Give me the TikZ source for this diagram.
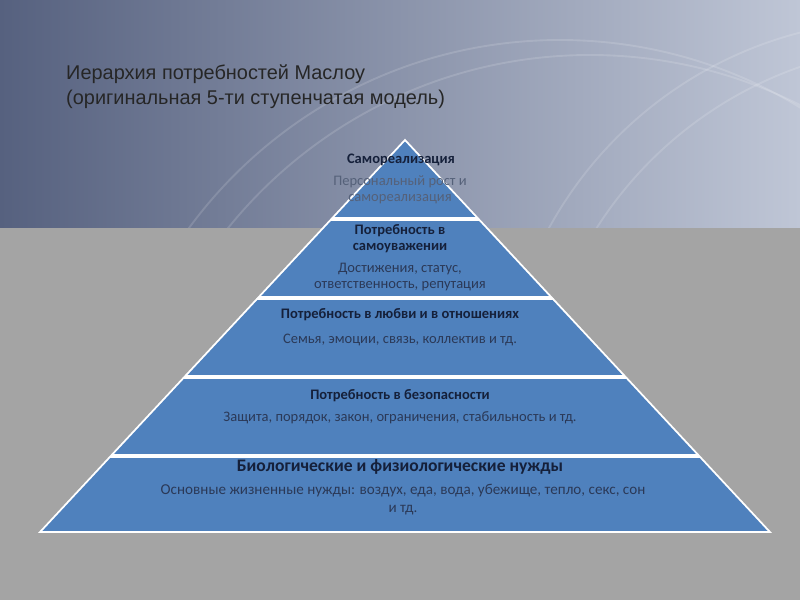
\documentclass[tikz,border=0pt]{standalone}
\usepackage{fontspec}
\setmainfont{Carlito}
\newfontfamily\mzTitleFont{Liberation Sans}
\usetikzlibrary{positioning,calc}
\definecolor{mzBandDark}{HTML}{56617F}
\definecolor{mzBandLight}{HTML}{BFC6D6}
\definecolor{mzGray}{HTML}{A4A4A4}
\definecolor{mzTier}{HTML}{4F81BD}
\definecolor{mzHeadText}{HTML}{15203A}
\definecolor{mzSubText}{HTML}{2B3957}
\tikzset{
    mzTierShape/.style={
        fill=mzTier,
        draw=white,
        line width=1.5pt,
        line join=miter
    },
    mzHead/.style={
        font=\bfseries\fontsize{12.4}{13.8}\selectfont,
        text=mzHeadText,
        align=center,
        inner sep=0pt
    },
    mzSub/.style={
        font=\fontsize{12.4}{13.5}\selectfont,
        text=mzSubText,
        align=center,
        inner sep=0pt
    },
    mzTitle/.style={
        font=\mzTitleFont\fontsize{17}{22}\selectfont,
        text=black!85,
        align=left,
        anchor=north west,
        inner sep=0pt
    },
    mzSwoosh/.style={white, opacity=0.14, line width=1.6pt}
}
\begin{document}
\begin{tikzpicture}[x=0.03cm, y=-0.03cm]
\useasboundingbox (0,0) rectangle (800,600);
% background
\fill[mzGray] (0,0) rectangle (800,600);
\shade[left color=mzBandDark, right color=mzBandLight] (0,0) rectangle (800,228);
\begin{scope}
    \clip (0,0) rectangle (800,228);
    \draw[mzSwoosh] (560,500) circle (460);
    \draw[mzSwoosh] (590,520) circle (465);
    \draw[mzSwoosh] (900,420) circle (400);
    \draw[mzSwoosh] (930,440) circle (395);
\end{scope}

% title
\node[mzTitle] (title) at (66,64) {Иерархия потребностей Маслоу\\(оригинальная 5-ти ступенчатая модель)};

% pyramid tiers
\foreach \t/\b in {140/218, 220/297, 299/376, 378/455, 457/532}
    \filldraw[mzTierShape] ({405-(\t-140)*0.931},\t) -- ({405+(\t-140)*0.931},\t)
        -- ({405+(\b-140)*0.931},\b) -- ({405-(\b-140)*0.931},\b) -- cycle;

% tier texts
\node[mzHead] (selfHead) at (401,160) {Самореализация};
\node[mzSub, text=mzSubText!80!white] (selfSub) at (400,190) {Персональный рост и\\самореализация};

\node[mzHead] (esteemHead) at (400,239) {Потребность в\\самоуважении};
\node[mzSub] (esteemSub) at (400,277) {Достижения, статус,\\ответственность, репутация};

\node[mzHead] (loveHead) at (400,315) {Потребность в любви и в отношениях};
\node[mzSub] (loveSub) at (400,340) {Семья, эмоции, связь, коллектив и тд.};

\node[mzHead] (safeHead) at (400,396) {Потребность в безопасности};
\node[mzSub] (safeSub) at (400,418) {Защита, порядок, закон, ограничения, стабильность и тд.};

\node[mzHead, font=\bfseries\fontsize{15}{17}\selectfont] (bioHead) at (400,467) {Биологические и физиологические нужды};
\node[mzSub, font=\fontsize{12.9}{15.5}\selectfont] (bioSub) at (403,500) {Основные жизненные нужды: воздух, еда, вода, убежище, тепло, секс, сон\\и тд.};
\end{tikzpicture}
\end{document}
